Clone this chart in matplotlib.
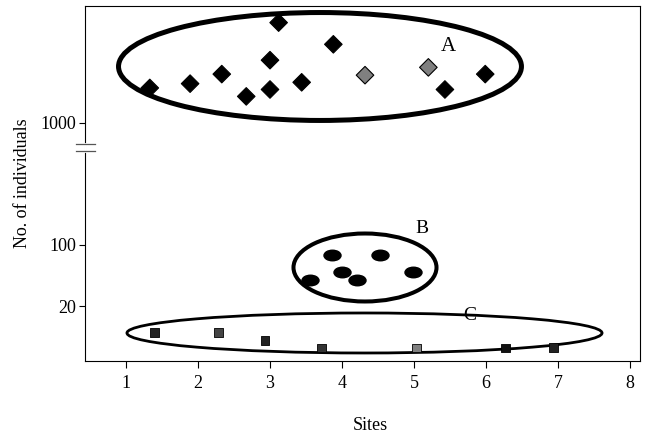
import numpy as np
import matplotlib
matplotlib.use("Agg")
import matplotlib.pyplot as plt
from matplotlib.patches import Ellipse
from matplotlib.path import Path
from matplotlib.markers import MarkerStyle
from matplotlib.ticker import FixedLocator, FixedFormatter

plt.rcParams['font.family'] = ['Liberation Serif', 'DejaVu Serif']
plt.rcParams['font.size'] = 13

# Group A (diamonds), values above the axis break
a_sites = [1.33, 1.89, 2.33, 2.67, 3.00, 3.00, 3.12, 3.44, 3.88, 4.32, 5.20, 5.43, 5.99]
a_counts = [2500, 2800, 3600, 2000, 5200, 2400, 14000, 2900, 7900, 3500, 4300, 2400, 3600]
a_shade = ['k', 'k', 'k', 'k', 'k', 'k', 'k', 'k', 'k', 'grey', 'grey', 'k', 'k']

# Group B (filled ovals)
b_sites = [3.56, 3.86, 4.00, 4.21, 4.53, 4.99]
b_counts = [40, 77, 49, 40, 77, 49]

# Group C (squares)
c_sites = [1.40, 2.28, 2.93, 3.71, 5.03, 6.27, 6.94]
c_counts = [10, 10, 8.0, 6.6, 6.6, 6.6, 6.7]
c_shade = ['#222222', '#444444', '#222222', '#333333', 'grey', '#111111', '#222222']

x_ticks = [1, 2, 3, 4, 5, 6, 7, 8]
y_ticks = [20, 100, 1000]

# broken log axis: lower part plain log, upper part shifted up
LO, HI, OFF = 400.0, 1000.0, 0.401
pA = np.log10(LO)
pB = np.log10(HI) + OFF


def fwd(v):
    v = np.asarray(v, dtype=float)
    lv = np.log10(np.clip(v, 1e-6, None))
    mid = pA + (lv - pA) / (np.log10(HI) - pA) * (pB - pA)
    return np.where(v <= LO, lv, np.where(v >= HI, lv + OFF, mid))


def inv(p):
    p = np.asarray(p, dtype=float)
    mid = pA + (p - pA) / (pB - pA) * (np.log10(HI) - pA)
    return np.where(p <= pA, 10 ** p, np.where(p >= pB, 10 ** (p - OFF), 10 ** mid))


fig = plt.figure(figsize=(6.49, 4.34), dpi=100)
ax = fig.add_axes([85 / 649, 73 / 434, 555 / 649, 355 / 434])
ax.set_yscale('function', functions=(fwd, inv))
ax.set_xlim(0.43, 8.14)
ax.set_ylim(4.69, 21700)

# group outlines (axes fraction)
ax.add_patch(Ellipse((0.4234, 0.8296), 0.726, 0.304, transform=ax.transAxes,
                     fill=False, ec='k', lw=3.6, zorder=2))
ax.add_patch(Ellipse((0.5045, 0.2634), 0.2577, 0.1915, transform=ax.transAxes,
                     fill=False, ec='k', lw=2.9, zorder=2))
ax.add_patch(Ellipse((0.5036, 0.0789), 0.856, 0.1127, transform=ax.transAxes,
                     fill=False, ec='k', lw=2.0, zorder=2))

ax.scatter(a_sites, a_counts, marker='D', s=80, c=a_shade, edgecolors='k',
           linewidths=0.8, zorder=3)

oval = Path.unit_circle().transformed(matplotlib.transforms.Affine2D().scale(1.0, 0.62))
ax.scatter(b_sites, b_counts, marker=MarkerStyle(oval), s=150, c='k', zorder=3)

ax.scatter(c_sites, c_counts, marker='s', s=40, c=c_shade, edgecolors='k',
           linewidths=0.6, zorder=3)

ax.text(0.655, 0.887, 'A', transform=ax.transAxes, fontsize=15, ha='center', va='center')
ax.text(0.607, 0.374, 'B', transform=ax.transAxes, fontsize=14, ha='center', va='center')
ax.text(0.693, 0.127, 'C', transform=ax.transAxes, fontsize=14, ha='center', va='center')

ax.xaxis.set_major_locator(FixedLocator(x_ticks))
ax.yaxis.set_major_locator(FixedLocator(y_ticks))
ax.yaxis.set_major_formatter(FixedFormatter([str(t) for t in y_ticks]))
ax.yaxis.set_minor_locator(FixedLocator([]))
ax.tick_params(axis='x', direction='out', length=5, width=0.8, pad=5, labelsize=13)
ax.tick_params(axis='y', direction='out', length=4.5, width=0.8, pad=2, labelsize=13)
for s in ax.spines.values():
    s.set_linewidth(0.8)

ax.set_xlabel('Sites', fontsize=13)
ax.xaxis.set_label_coords(0.514, -0.158)
ax.set_ylabel('No. of individuals', fontsize=13)
ax.yaxis.set_label_coords(-0.097, 0.5)

# axis break marks on the left spine
ax.plot([0, 0], [0.5915, 0.611], transform=ax.transAxes, color='white', lw=2,
        clip_on=False, zorder=5)
for yb in (0.5915, 0.611):
    ax.plot([-0.0162, 0.018], [yb, yb], transform=ax.transAxes, color='#555555',
            lw=0.9, clip_on=False, zorder=6)

fig.savefig('out.png', dpi=100)
